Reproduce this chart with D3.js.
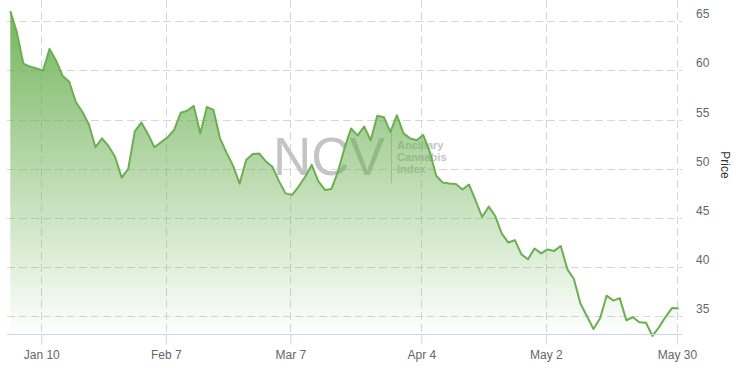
<!DOCTYPE html>
<html>
<head>
<meta charset="utf-8">
<script src="https://cdn.jsdelivr.net/npm/d3@7"></script>
<style>
	body { margin: 0; background: #fff; }
	text { font-family: "Liberation Sans", Arial, sans-serif; }
</style>
</head>
<body>
<div id="chart"></div>
<script>
/* Daily closing price, one value per trading day (Jan 3 .. May 31) */
var prices = [
	66.05, 63.9, 60.7, 60.4, 60.2, 60.0, 62.2, 61.0, 59.45, 58.85,
	56.8, 55.8, 54.5, 52.2, 53.1, 52.3, 51.2, 49.1, 50.0, 53.8,
	54.7, 53.55, 52.2, 52.7, 53.2, 53.95, 55.7, 55.9, 56.4, 53.6,
	56.3, 56.0, 53.1, 51.65, 50.3, 48.5, 50.9, 51.5, 51.55, 50.75,
	50.2, 48.75, 47.5, 47.35, 48.2, 49.2, 50.4, 48.75, 47.85, 47.95,
	49.7, 52.1, 54.1, 53.4, 54.3, 52.9, 55.4, 55.25, 53.75, 55.45,
	53.6, 53.1, 52.9, 53.45, 51.75, 49.3, 48.6, 48.5, 48.45, 47.9,
	48.4, 46.8, 45.1, 46.15, 45.2, 43.4, 42.5, 42.75, 41.3, 40.8,
	41.9, 41.4, 41.8, 41.65, 42.15, 39.8, 38.8, 36.3, 35.0, 33.7,
	34.8, 37.1, 36.6, 36.85, 34.6, 34.9, 34.4, 34.35, 33.0, 33.9,
	34.95, 35.85, 35.8
];
/* x axis labels and the trading-day index they sit on */
var tickLabels = ["Jan 10", "Feb 7", "Mar 7", "Apr 4", "May 2", "May 30"];
var tickIndex = [5, 24, 43, 63, 82, 102];
/* y axis ticks */
var priceTicks = [35, 40, 45, 50, 55, 60, 65];

var width = 741, height = 373;
var plotLeft = 7, plotRight = 682, plotTop = 0, plotBottom = 334;
var lineColor = "#6aaf50";

var svg = d3.select("#chart").append("svg")
	.attr("width", width)
	.attr("height", height);

var x = d3.scaleLinear()
	.domain([-0.5, prices.length - 0.5])
	.range([plotLeft, plotRight]);
var y = d3.scaleLinear()
	.domain([33.2, 67.17])
	.range([plotBottom, plotTop]);

/* gradient for the area fill */
var grad = svg.append("defs").append("linearGradient")
	.attr("id", "areaFill")
	.attr("x1", 0).attr("y1", 0).attr("x2", 0).attr("y2", 1);
grad.append("stop").attr("offset", "0%").attr("stop-color", lineColor).attr("stop-opacity", 0.92);
grad.append("stop").attr("offset", "100%").attr("stop-color", lineColor).attr("stop-opacity", 0);

/* dashed grid */
svg.append("g").selectAll("line")
	.data(priceTicks)
	.enter().append("line")
	.attr("x1", plotLeft).attr("x2", plotRight)
	.attr("y1", function(d){ return Math.round(y(d)) + 0.5; })
	.attr("y2", function(d){ return Math.round(y(d)) + 0.5; })
	.attr("stroke", "#d6d6d6")
	.attr("stroke-dasharray", "8,4");

var tickX = function(d){ return Math.round(x(d - 0.27)) + 0.5; };
svg.append("g").selectAll("line")
	.data(tickIndex)
	.enter().append("line")
	.attr("x1", tickX).attr("x2", tickX)
	.attr("y1", plotTop).attr("y2", plotBottom)
	.attr("stroke", "#d6d6d6")
	.attr("stroke-dasharray", "8,4");

/* watermark behind the series */
var wm = svg.append("g").attr("fill", "#c4c4c4");
wm.append("text")
	.attr("x", 273).attr("y", 175)
	.attr("font-size", 53)
	.text("NCV");
wm.append("line")
	.attr("x1", 391.5).attr("x2", 391.5)
	.attr("y1", 130).attr("y2", 183)
	.attr("stroke", "#c8c8c8");
["Ancillary", "Cannabis", "Index"].forEach(function(t, i){
	wm.append("text")
		.attr("x", 397).attr("y", 148.5 + i * 12.4)
		.attr("font-size", 11)
		.attr("font-weight", "bold")
		.text(t);
});

/* area and line */
var area = d3.area()
	.x(function(d, i){ return x(i); })
	.y0(plotBottom)
	.y1(function(d){ return y(d); });
var line = d3.line()
	.x(function(d, i){ return x(i); })
	.y(function(d){ return y(d); });

svg.append("path")
	.datum(prices)
	.attr("d", area)
	.attr("fill", "url(#areaFill)");
svg.append("path")
	.datum(prices)
	.attr("d", line)
	.attr("fill", "none")
	.attr("stroke", lineColor)
	.attr("stroke-width", 2)
	.attr("stroke-linejoin", "round");

/* x axis */
var xAxis = d3.axisBottom(x)
	.tickValues(tickIndex.map(function(d){ return d - 0.27; }))
	.tickFormat(function(d, i){ return tickLabels[i]; })
	.tickSize(10)
	.tickPadding(6);
var gx = svg.append("g")
	.attr("transform", "translate(0," + (plotBottom + 0.5) + ")")
	.call(xAxis);
gx.select(".domain").attr("stroke", "#ccd6eb").attr("d", "M" + plotLeft + ",0H" + plotRight);
gx.selectAll(".tick line").attr("stroke", "#ccd6eb");
gx.selectAll(".tick text")
	.attr("fill", "#666")
	.attr("font-size", 12)
	.attr("font-family", "Liberation Sans, Arial, sans-serif");

/* y axis labels on the right, sitting just above their grid line */
svg.append("g").selectAll("text")
	.data(priceTicks)
	.enter().append("text")
	.attr("x", 696)
	.attr("y", function(d){ return y(d) - 3; })
	.attr("fill", "#666")
	.attr("font-size", 12)
	.text(function(d){ return d; });

svg.append("text")
	.attr("transform", "translate(720.5,165) rotate(90)")
	.attr("text-anchor", "middle")
	.attr("fill", "#333")
	.attr("font-size", 12)
	.text("Price");
</script>
</body>
</html>
